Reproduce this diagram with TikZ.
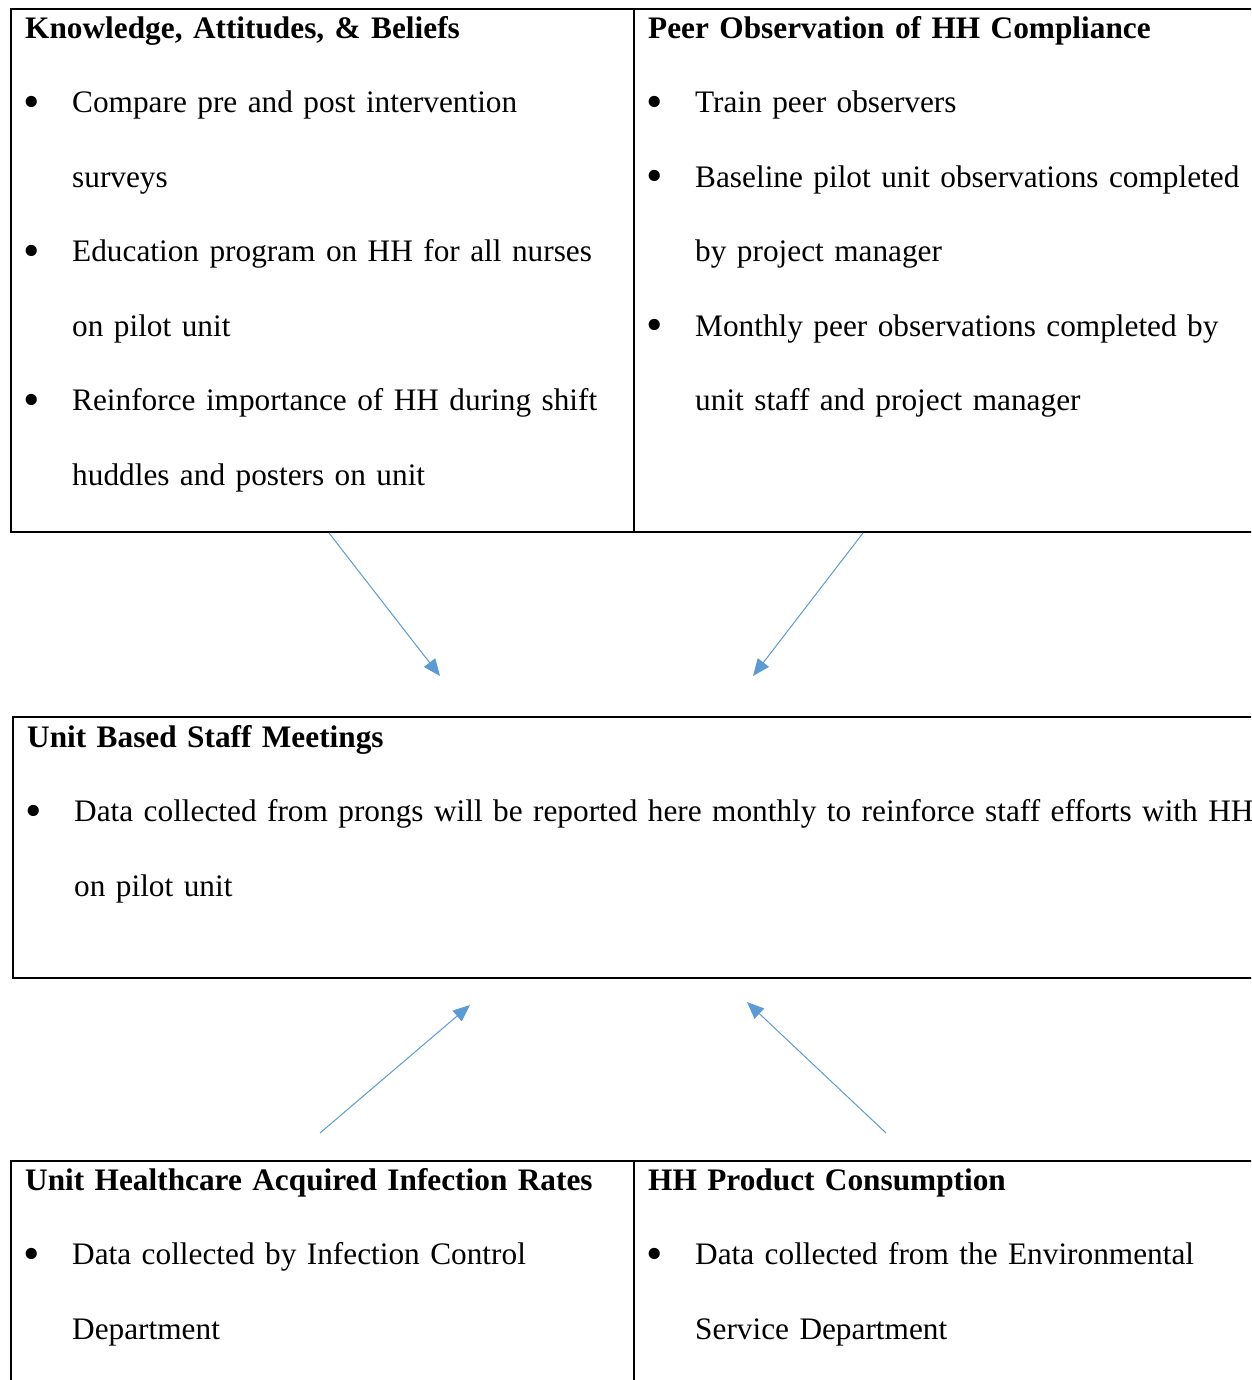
\documentclass[tikz,border=0pt]{standalone}
\usepackage{fontspec}
\setmainfont{Liberation Serif}
\usetikzlibrary{arrows.meta}
\definecolor{hhblue}{RGB}{91,155,213}
\newcommand{\hhitem}{\makebox[47pt][l]{\hspace*{-2pt}\raisebox{-4.5pt}{\scalebox{1.5}{\textbullet}}}}
\newcommand{\hhcont}{\hspace*{47pt}}
\tikzset{
  boxframe/.style={draw, line width=1.6pt, anchor=north west, inner sep=0pt},
  boxtext/.style={anchor=north west, inner sep=0pt, text width=1300pt, align=left,
    font=\fontsize{31.3}{74.5}\selectfont, execute at begin node={\rule{0pt}{24pt}}},
  flow/.style={hhblue, line width=1pt, -{Triangle[length=17pt,width=14pt]}}
}

\begin{document}
\begin{tikzpicture}[x=1pt,y=-1pt]
  \useasboundingbox (0,0) rectangle (1251,1380);
  \clip (0,0) rectangle (1251,1380);
  \node[boxframe, minimum width=623pt, minimum height=523pt] (kab) at (10,8) {};
  \node[boxframe, minimum width=660pt, minimum height=523pt] (peer) at (633,8) {};
  \node[boxframe, minimum width=1260pt, minimum height=261pt] (meet) at (12,716) {};
  \node[boxframe, minimum width=623pt, minimum height=260pt] (hai) at (10,1160) {};
  \node[boxframe, minimum width=660pt, minimum height=260pt] (prod) at (633,1160) {};

  \node[boxtext] (kab-text) at (25,14) {\textbf{Knowledge, Attitudes, \& Beliefs}\\
    \hhitem Compare pre and post intervention\\
    \hhcont surveys\\
    \hhitem Education program on HH for all nurses\\
    \hhcont on pilot unit\\
    \hhitem Reinforce importance of HH during shift\\
    \hhcont huddles and posters on unit};
  \node[boxtext] (peer-text) at (648,14) {\textbf{Peer Observation of HH Compliance}\\
    \hhitem Train peer observers\\
    \hhitem Baseline pilot unit observations completed\\
    \hhcont by project manager\\
    \hhitem Monthly peer observations completed by\\
    \hhcont unit staff and project manager};
  \node[boxtext] (meet-text) at (27,723) {\textbf{Unit Based Staff Meetings}\\
    \hhitem Data collected from prongs will be reported here monthly to reinforce staff efforts with HH\\
    \hhcont on pilot unit};
  \node[boxtext] (hai-text) at (25,1166) {\textbf{Unit Healthcare Acquired Infection Rates}\\
    \hhitem Data collected by Infection Control\\
    \hhcont Department};
  \node[boxtext] (prod-text) at (648,1166) {\textbf{HH Product Consumption}\\
    \hhitem Data collected from the Environmental\\
    \hhcont Service Department};

  \coordinate (kab-out) at (329,533);
  \coordinate (meet-inl) at (440,676);
  \coordinate (peer-out) at (863,533);
  \coordinate (meet-inr) at (753,676);
  \coordinate (hai-out) at (320,1133);
  \coordinate (meet-outl) at (470,1005);
  \coordinate (prod-out) at (886,1133);
  \coordinate (meet-outr) at (747,1002);
  \draw[flow] (kab-out) -- (meet-inl);
  \draw[flow] (peer-out) -- (meet-inr);
  \draw[flow] (hai-out) -- (meet-outl);
  \draw[flow] (prod-out) -- (meet-outr);
\end{tikzpicture}
\end{document}
